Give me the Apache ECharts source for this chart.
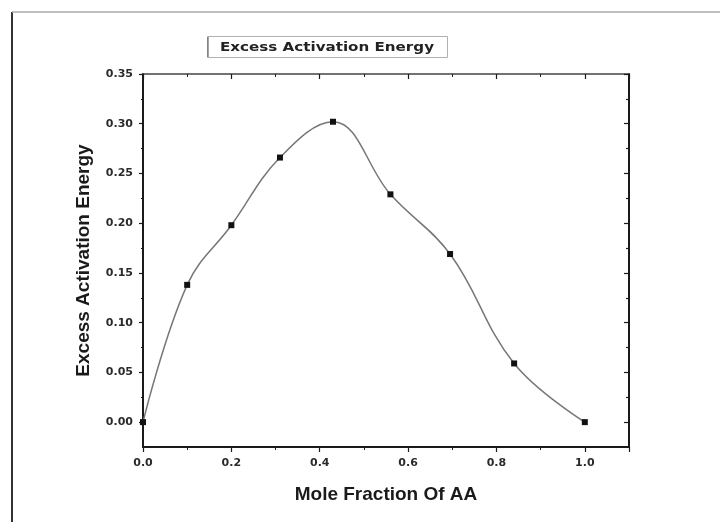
<!DOCTYPE html>
<html>
<head>
<meta charset="utf-8">
<title>Excess Activation Energy</title>
<script src="https://cdn.jsdelivr.net/npm/echarts@6/dist/echarts.min.js"></script>
<style>
  html, body { margin: 0; padding: 0; background: #fff; }
  #chart { width: 720px; height: 528px; }
</style>
</head>
<body>
<div id="chart"></div>
<script>
// Measured points: mole fraction of AA vs. excess activation energy
const moleFraction = [0, 0.1, 0.2, 0.31, 0.43, 0.56, 0.695, 0.84, 1.0];
const excessEnergy = [0, 0.138, 0.198, 0.266, 0.302, 0.229, 0.169, 0.059, 0];

// Axis tick positions
const yMajorTicks = [0, 0.05, 0.10, 0.15, 0.20, 0.25, 0.30, 0.35];
const yMinorTicks = [0.025, 0.075, 0.125, 0.175, 0.225, 0.275, 0.325];

const chartTitle = 'Excess Activation Energy';
const xTitle = 'Mole Fraction Of AA';
const yTitle = 'Excess Activation Energy';

const FONT = '"Liberation Sans", Arial, sans-serif';
const TICK_FONT = '"DejaVu Sans", "Liberation Sans", sans-serif';
const INK = '#1a1a1a';

const chart = echarts.init(document.getElementById('chart'), null, { renderer: 'canvas' });

const Y_MIN = -0.025, Y_MAX = 0.35;

function yAxisDef(position, ticks, len, inside, withLabels, withLine) {
  return {
    type: 'value', position: position, offset: 0,
    min: Y_MIN, max: Y_MAX,
    splitLine: { show: false },
    axisLine: { show: withLine, onZero: false, lineStyle: { color: INK, width: 2 } },
    axisTick: { show: true, inside: inside, length: len, customValues: ticks,
                lineStyle: { color: INK, width: 1.2 } },
    axisLabel: withLabels ? {
      show: true, customValues: yMajorTicks, margin: 10,
      formatter: v => v.toFixed(2),
      fontFamily: TICK_FONT, fontWeight: 'bold', fontSize: 11, color: '#2a2a2a'
    } : { show: false },
    name: withLabels ? yTitle : '',
    nameLocation: 'middle', nameGap: 50,
    nameTextStyle: { fontFamily: FONT, fontWeight: 'bold', fontSize: 19, color: INK }
  };
}

const option = {
  backgroundColor: '#fff',
  animation: false,
  grid: { left: 143, right: 91, top: 74, bottom: 81, containLabel: false },
  xAxis: [
    {
      type: 'value', position: 'bottom',
      min: 0, max: 1.1, interval: 0.2,
      splitLine: { show: false },
      axisLine: { onZero: false, lineStyle: { color: INK, width: 2 } },
      axisTick: { show: true, inside: false, length: 5, lineStyle: { color: INK, width: 1.2 } },
      minorTick: { show: true, splitNumber: 2, length: 3, lineStyle: { color: INK, width: 1 } },
      minorSplitLine: { show: false },
      axisLabel: {
        showMaxLabel: false, margin: 11,
        formatter: v => v.toFixed(1),
        fontFamily: TICK_FONT, fontWeight: 'bold', fontSize: 11, color: '#2a2a2a'
      },
      name: xTitle, nameLocation: 'middle', nameGap: 38,
      nameTextStyle: { fontFamily: FONT, fontWeight: 'bold', fontSize: 19, color: INK }
    },
    {
      type: 'value', position: 'top',
      min: 0, max: 1.1, interval: 0.2,
      splitLine: { show: false },
      axisLine: { onZero: false, lineStyle: { color: '#444', width: 1.5 } },
      axisTick: { show: true, inside: true, length: 5, lineStyle: { color: INK, width: 1.2 } },
      minorTick: { show: true, splitNumber: 2, length: 3, lineStyle: { color: INK, width: 1 } },
      axisLabel: { show: false }
    }
  ],
  yAxis: [
    yAxisDef('left', yMajorTicks, 4, false, true, true),
    yAxisDef('left', yMinorTicks, 2, false, false, false),
    yAxisDef('right', yMajorTicks, 5, true, false, true),
    yAxisDef('right', yMinorTicks, 3, true, false, false)
  ],
  graphic: [
    // page frame
    { type: 'line', shape: { x1: 12, y1: 12, x2: 12, y2: 522 },
      style: { stroke: '#333', lineWidth: 2 } },
    { type: 'line', shape: { x1: 12, y1: 12, x2: 720, y2: 12 },
      style: { stroke: '#aaa', lineWidth: 1.5 } },
    // boxed title above the plot
    { type: 'rect', shape: { x: 207.5, y: 36.5, width: 240, height: 21 },
      style: { fill: 'none', stroke: '#b0b0b0', lineWidth: 1 } },
    { type: 'line', shape: { x1: 208, y1: 37, x2: 208, y2: 57 },
      style: { stroke: '#666', lineWidth: 1.2 } },
    { type: 'text', x: 220, y: 47.5, scaleX: 1.26,
      style: { text: chartTitle, fontFamily: TICK_FONT, fontWeight: 'bold', fontSize: 12,
               fill: '#222', textVerticalAlign: 'middle', textAlign: 'left' } }
  ],
  series: [
    {
      type: 'line',
      xAxisIndex: 0, yAxisIndex: 0,
      data: moleFraction.map((x, i) => [x, excessEnergy[i]]),
      smooth: 0.4,
      symbol: 'rect', symbolSize: 6,
      itemStyle: { color: '#111' },
      lineStyle: { color: '#777', width: 1.5 },
      z: 3
    }
  ]
};

chart.setOption(option);
</script>
</body>
</html>
